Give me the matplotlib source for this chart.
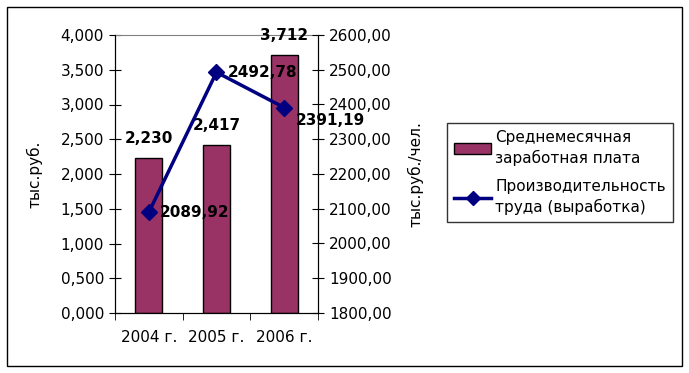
import matplotlib.pyplot as plt
from matplotlib.patches import Rectangle, Patch
from matplotlib.lines import Line2D
from matplotlib.ticker import FixedLocator, FuncFormatter

plt.rcParams['font.family'] = ['DejaVu Sans']

years = ['2004 г.', '2005 г.', '2006 г.']
salary = [2.230, 2.417, 3.712]          # тыс.руб.
productivity = [2089.92, 2492.78, 2391.19]  # тыс.руб./чел.
salary_labels = ['2,230', '2,417', '3,712']
prod_labels = ['2089,92', '2492,78', '2391,19']
# offsets of the line labels (points)
prod_offsets = [(8, 0), (8, 0), (8, -9)]

fig = plt.figure(figsize=(6.89, 3.73), dpi=100)
fig.add_artist(Rectangle((7 / 689, 7 / 373), 675 / 689, 359 / 373,
                         transform=fig.transFigure, fill=False,
                         edgecolor='black', linewidth=1))

ax = fig.add_axes([115 / 689, 1 - 313 / 373, 203 / 689, 278 / 373])
x = list(range(len(years)))
ax.bar(x, salary, width=0.4, color='#993366', edgecolor='black', linewidth=1, zorder=2)
ax.set_xlim(-0.5, 2.5)
ax.set_ylim(0, 4)
ax.set_yticks([i * 0.5 for i in range(9)])
ax.yaxis.set_major_formatter(FuncFormatter(lambda v, p: f'{v:.3f}'.replace('.', ',')))
ax.set_xticks(x)
ax.set_xticklabels(years)
ax.xaxis.set_minor_locator(FixedLocator([-0.5, 0.5, 1.5, 2.5]))
ax.tick_params(axis='x', which='major', length=0, pad=12, labelsize=11)
ax.tick_params(axis='x', which='minor', length=5, direction='out')
ax.tick_params(axis='y', length=8, direction='inout', labelsize=11, pad=4)
ax.spines['top'].set_color('#808080')
ax.set_ylabel('тыс.руб.', fontsize=11, labelpad=13)

for xi, v, lab in zip(x, salary, salary_labels):
    ax.annotate(lab, (xi, v), xytext=(0, 9), textcoords='offset points',
                ha='center', va='bottom', fontsize=11, fontweight='bold')

ax2 = ax.twinx()
ax2.plot(x, productivity, color='#000080', linewidth=2.5, marker='D',
         markersize=8, zorder=3)
ax2.set_ylim(1800, 2600)
ax2.set_yticks([1800 + i * 100 for i in range(9)])
ax2.yaxis.set_major_formatter(FuncFormatter(lambda v, p: f'{v:.2f}'.replace('.', ',')))
ax2.tick_params(axis='y', length=8, direction='inout', labelsize=11, pad=4)
ax2.spines['top'].set_visible(False)
ax2.set_ylabel('тыс.руб./чел.', fontsize=11, labelpad=11)

for xi, v, lab, off in zip(x, productivity, prod_labels, prod_offsets):
    ax2.annotate(lab, (xi, v), xytext=off, textcoords='offset points',
                 ha='left', va='center', fontsize=11, fontweight='bold')

handles = [Patch(facecolor='#993366', edgecolor='black', linewidth=1),
           Line2D([], [], color='#000080', linewidth=2.5, marker='D', markersize=7)]
labels = ['Среднемесячная\nзаработная плата', 'Производительность\nтруда (выработка)']
leg = fig.legend(handles, labels, loc='upper left',
                 bbox_to_anchor=(447 / 689, 1 - 123 / 373), borderaxespad=0,
                 fontsize=11, frameon=True, fancybox=False, edgecolor='black',
                 handlelength=2.45, handletextpad=0.25, borderpad=0.45,
                 labelspacing=0.9)
leg.get_frame().set_linewidth(1)
for t in leg.get_texts():
    t.set_linespacing(1.35)

fig.savefig('out.png', dpi=100)
